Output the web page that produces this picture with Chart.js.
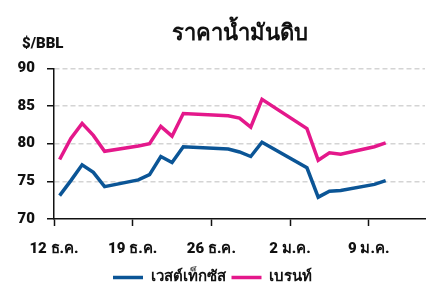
<!DOCTYPE html>
<html>
<head>
<meta charset="utf-8">
<script src="https://cdn.jsdelivr.net/npm/chart.js@4/dist/chart.umd.min.js"></script>
<style>
  body { margin: 0; background: #fff; }
  .chart { width: 438px; height: 295px; }
</style>
</head>
<body>
<div class="chart"><canvas id="oil"></canvas></div>
<script>
// trading days, Dec 2022 - Jan 2023
const dates = [
  "2022-12-12", "2022-12-13", "2022-12-14", "2022-12-15", "2022-12-16",
  "2022-12-19", "2022-12-20", "2022-12-21", "2022-12-22", "2022-12-23",
  "2022-12-27", "2022-12-28", "2022-12-29", "2022-12-30",
  "2023-01-03", "2023-01-04", "2023-01-05", "2023-01-06", "2023-01-09", "2023-01-10",
];
const wti = [73.1, 75.1, 77.2, 76.2, 74.3, 75.2, 75.9, 78.3, 77.5, 79.6,
  79.3, 78.9, 78.3, 80.2, 76.8, 72.9, 73.7, 73.8, 74.6, 75.1];
const brent = [77.9, 80.7, 82.7, 81.1, 79.0, 79.7, 80.0, 82.3, 81.0, 84.0,
  83.7, 83.4, 82.2, 85.9, 82.0, 77.8, 78.8, 78.6, 79.6, 80.1];

const tickDates = ["2022-12-12", "2022-12-19", "2022-12-26", "2023-01-02", "2023-01-09"];
const tickLabels = ["12 ธ.ค.", "19 ธ.ค.", "26 ธ.ค.", "2 ม.ค.", "9 ม.ค."];
const seriesNames = ["เวสต์เท็กซัส", "เบรนท์"];

const DAY = 86400000;
const start = Date.parse(tickDates[0]);
const dayOf = (d) => (Date.parse(d) - start) / DAY;
// prices plotted at mid-day
const toPoints = (arr) => arr.map((v, i) => ({ x: dayOf(dates[i]) + 0.5, y: v }));

const font = "Roboto, 'Noto Sans', sans-serif";

const unitLabel = {
  id: "unitLabel",
  afterDraw(chart) {
    const ctx = chart.ctx;
    ctx.save();
    ctx.font = "900 15px " + font;
    ctx.fillStyle = "#111";
    ctx.textBaseline = "middle";
    ctx.fillText("$/BBL", 22, 44);
    ctx.restore();
  },
};

new Chart(document.getElementById("oil"), {
  type: "line",
  data: {
    datasets: [
      {
        label: seriesNames[0],
        data: toPoints(wti),
        borderColor: "#0b5596",
        backgroundColor: "#0b5596",
        borderWidth: 3.5,
        pointRadius: 0,
        tension: 0,
      },
      {
        label: seriesNames[1],
        data: toPoints(brent),
        borderColor: "#e4188b",
        backgroundColor: "#e4188b",
        borderWidth: 3.5,
        pointRadius: 0,
        tension: 0,
      },
    ],
  },
  options: {
    responsive: true,
    maintainAspectRatio: false,
    animation: false,
    layout: { padding: { left: 0, right: 13, top: 0, bottom: 0 } },
    scales: {
      x: {
        type: "linear",
        min: 0,
        max: 33,
        afterBuildTicks: (scale) => {
          scale.ticks = tickDates.map((d) => ({ value: dayOf(d) }));
        },
        afterFit: (scale) => { scale.height = 45; },
        ticks: {
          padding: 14,
          maxRotation: 0,
          autoSkip: false,
          color: "#111",
          font: { family: font, size: 15, weight: "900" },
          callback: (v) => tickLabels[tickDates.findIndex((d) => dayOf(d) === v)],
        },
        grid: {
          drawOnChartArea: false,
          tickLength: 7,
          tickColor: "#111",
          tickWidth: 1.5,
        },
        border: { color: "#111", width: 1.5 },
      },
      y: {
        min: 70,
        max: 90,
        afterFit: (scale) => { scale.width = 54; },
        ticks: {
          stepSize: 5,
          padding: 12,
          color: "#111",
          font: { family: font, size: 15, weight: "900" },
        },
        grid: {
          color: (c) => (c.tick.value === 70 ? "rgba(0,0,0,0)" : "#d4d4d4"),
          lineWidth: 1.5,
          tickLength: 7,
          tickColor: "#111",
          tickWidth: 1.5,
          tickBorderDash: [],
        },
        border: { color: "#111", width: 1.5, dash: [5, 3] },
      },
    },
    plugins: {
      title: {
        display: true,
        text: "ราคาน้ำมันดิบ",
        fullSize: false,
        color: "#111",
        font: { family: font, size: 22, weight: "900" },
        padding: { top: 21, bottom: 21 },
      },
      legend: {
        position: "bottom",
        labels: {
          usePointStyle: true,
          pointStyle: "line",
          pointStyleWidth: 30,
          color: "#111",
          padding: 6,
          font: { family: font, size: 15, weight: "900" },
        },
      },
      tooltip: { enabled: false },
    },
  },
  plugins: [unitLabel],
});
</script>
</body>
</html>
